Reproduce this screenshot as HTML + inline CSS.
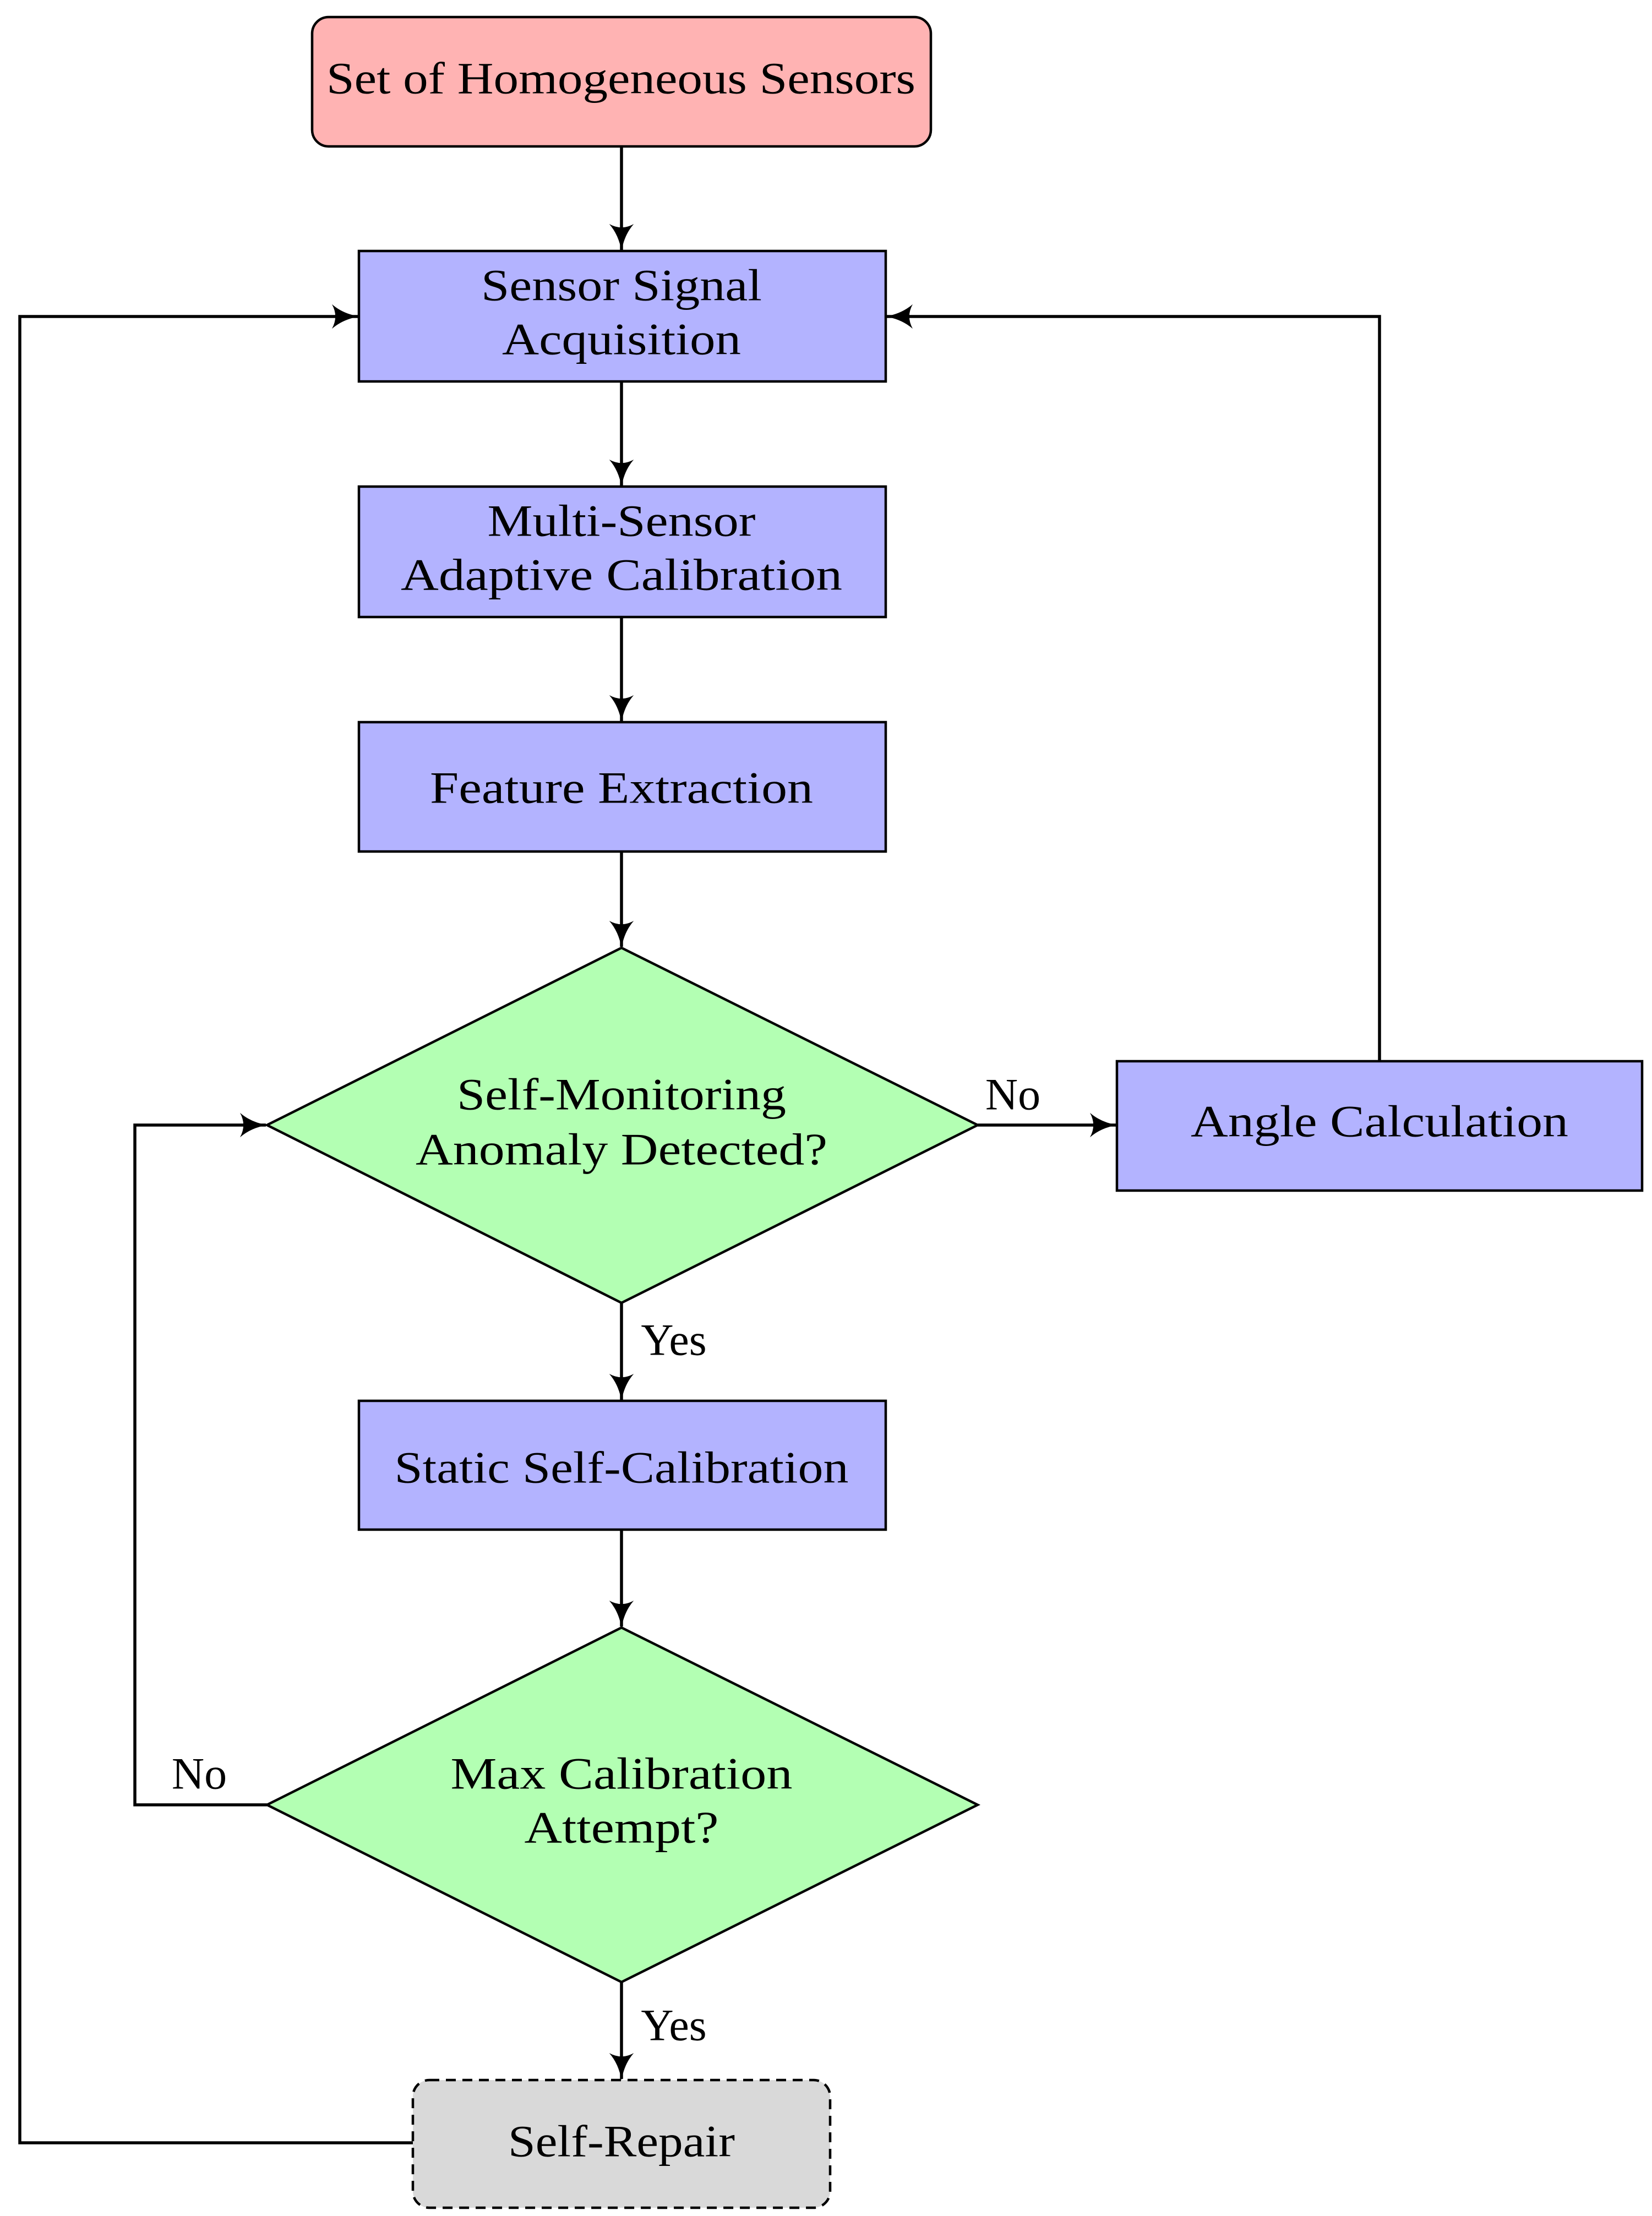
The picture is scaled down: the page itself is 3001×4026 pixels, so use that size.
<!DOCTYPE html>
<html><head><meta charset="utf-8"><style>html,body{margin:0;padding:0;background:#fff}svg{display:block}</style></head>
<body>
<svg width="3001" height="4026" viewBox="0 0 3001 4026" xmlns="http://www.w3.org/2000/svg" font-family="'Liberation Serif', serif" font-size="82">
<defs>
<marker id="a" viewBox="0 0 10 10" refX="9.5" refY="5" markerWidth="9" markerHeight="9" orient="auto" markerUnits="strokeWidth">
<path d="M0,0.5 Q4,4 10,5 Q4,6 0,9.5 Q2.5,5 0,0.5Z" fill="#000"/>
</marker>
</defs>
<g stroke="#000" stroke-width="4.5">
<rect x="567" y="31" width="1124" height="235" rx="30" fill="#ffb3b3"/>
<rect x="652" y="456" width="957" height="237" fill="#b3b3ff"/>
<rect x="652" y="884" width="957" height="237" fill="#b3b3ff"/>
<rect x="652" y="1312" width="957" height="235" fill="#b3b3ff"/>
<polygon points="1129,1722 1776,2044 1129,2367 485,2044" fill="#b3ffb3"/>
<rect x="2029" y="1928" width="954" height="235" fill="#b3b3ff"/>
<rect x="652" y="2545" width="957" height="234" fill="#b3b3ff"/>
<polygon points="1129,2957 1776,3279 1129,3601 485,3279" fill="#b3ffb3"/>
<rect x="750" y="3779" width="758" height="232" rx="30" fill="#d9d9d9" stroke-dasharray="18,12"/>
</g>
<g stroke="#000" stroke-width="5.5" fill="none" marker-end="url(#a)">
<line x1="1129" y1="266" x2="1129" y2="454"/>
<line x1="1129" y1="693" x2="1129" y2="882"/>
<line x1="1129" y1="1121" x2="1129" y2="1310"/>
<line x1="1129" y1="1547" x2="1129" y2="1720"/>
<line x1="1776" y1="2044" x2="2027" y2="2044"/>
<line x1="1129" y1="2367" x2="1129" y2="2543"/>
<line x1="1129" y1="2779" x2="1129" y2="2955"/>
<line x1="1129" y1="3601" x2="1129" y2="3777"/>
<polyline points="2506,1928 2506,575 1611,575"/>
<polyline points="750,3893 36,3893 36,575 650,575"/>
<polyline points="485,3279 245,3279 245,2044 483,2044"/>
</g>
<g text-anchor="middle" dominant-baseline="central" fill="#000">
<text x="1128" y="142" textLength="1070" lengthAdjust="spacingAndGlyphs">Set of Homogeneous Sensors</text>
<text x="1129" y="518" textLength="510" lengthAdjust="spacingAndGlyphs">Sensor Signal</text>
<text x="1129" y="616" textLength="434" lengthAdjust="spacingAndGlyphs">Acquisition</text>
<text x="1129" y="946" textLength="487" lengthAdjust="spacingAndGlyphs">Multi-Sensor</text>
<text x="1129" y="1044" textLength="802" lengthAdjust="spacingAndGlyphs">Adaptive Calibration</text>
<text x="1129" y="1431" textLength="696" lengthAdjust="spacingAndGlyphs">Feature Extraction</text>
<text x="1129" y="1988" textLength="598" lengthAdjust="spacingAndGlyphs">Self-Monitoring</text>
<text x="1129" y="2088" textLength="748" lengthAdjust="spacingAndGlyphs">Anomaly Detected?</text>
<text x="2506" y="2037" textLength="686" lengthAdjust="spacingAndGlyphs">Angle Calculation</text>
<text x="1129" y="2666" textLength="825" lengthAdjust="spacingAndGlyphs">Static Self-Calibration</text>
<text x="1129" y="3222" textLength="621" lengthAdjust="spacingAndGlyphs">Max Calibration</text>
<text x="1129" y="3320" textLength="353" lengthAdjust="spacingAndGlyphs">Attempt?</text>
<text x="1129" y="3890" textLength="412" lengthAdjust="spacingAndGlyphs">Self-Repair</text>
<text x="1840" y="1988">No</text>
<text x="1224" y="2434">Yes</text>
<text x="362" y="3222">No</text>
<text x="1224" y="3679">Yes</text>
</g>
</svg>
</body></html>
